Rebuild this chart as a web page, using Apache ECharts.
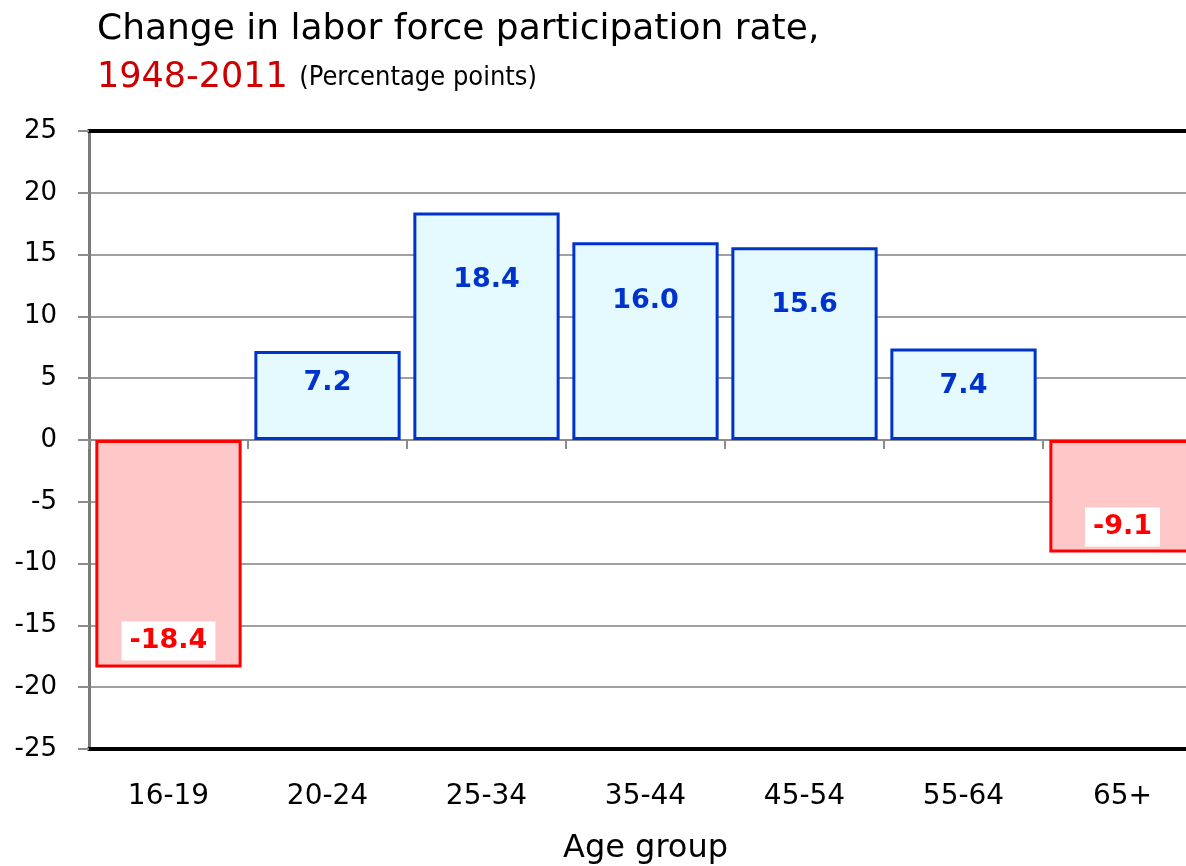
<!DOCTYPE html>
<html>
<head>
<meta charset="utf-8">
<script src="https://cdn.jsdelivr.net/npm/echarts@6/dist/echarts.min.js"></script>
<style>
  html, body { margin: 0; padding: 0; background: #fff; }
  #chart { width: 1186px; height: 866px; }
</style>
</head>
<body>
<div id="chart"></div>
<script>
// age groups and change in participation rate, 1948-2011 (percentage points)
var ageGroups = ['16-19', '20-24', '25-34', '35-44', '45-54', '55-64', '65+']
var changeValues = [-18.4, 7.2, 18.4, 16.0, 15.6, 7.4, -9.1]
// how far the label sits in from the bar end (Excel placed these by hand)
var labelNudge = [7, 18, 54, 45, 44, 24, 6]

var FONT = '"DejaVu Sans", Verdana, sans-serif'

var chart = echarts.init(document.getElementById('chart'))

var barData = changeValues.map(function(v, i) {
  var neg = v < 0
  return {
    value: v,
    itemStyle: {
      color: neg ? '#ffc8c8' : '#e5faff',
      borderColor: neg ? '#ff0000' : '#0033cc',
      borderWidth: 3
    },
    label: {
      show: true,
      position: neg ? 'insideBottom' : 'insideTop',
      distance: labelNudge[i],
      formatter: function(p) { return p.value.toFixed(1) },
      fontFamily: FONT,
      fontWeight: 'bold',
      fontSize: 27,
      color: neg ? '#ff0000' : '#0033cc',
      backgroundColor: neg ? '#ffffff' : 'transparent',
      padding: neg ? [6, 8, 6, 8] : 0
    }
  }
})

chart.setOption({
  animation: false,
  title: {
    left: 92,
    top: 1,
    text: 'Change in labor force participation rate,\n{red|1948-2011} {sub|(Percentage points)}',
    textStyle: {
      fontFamily: FONT,
      fontSize: 36,
      fontWeight: 'normal',
      color: '#000',
      lineHeight: 48,
      rich: {
        red: { fontFamily: FONT, fontSize: 35, color: '#cc0000', lineHeight: 48 },
        sub: { fontFamily: '"DejaVu Sans Condensed", "DejaVu Sans", sans-serif', fontSize: 27, color: '#000', lineHeight: 48 }
      }
    }
  },
  grid: {
    left: 89,
    width: 1113,
    top: 131,
    bottom: 117,
    outerBoundsMode: 'none'
  },
  xAxis: [
    {
      // bottom axis: category labels and heavy frame line
      type: 'category',
      data: ageGroups,
      position: 'bottom',
      name: 'Age group',
      nameLocation: 'middle',
      nameGap: 84,
      nameTextStyle: { fontFamily: FONT, fontSize: 32, color: '#000' },
      axisLine: { onZero: false, lineStyle: { color: '#000', width: 4 } },
      axisTick: { show: false },
      axisLabel: { fontFamily: FONT, fontSize: 28, color: '#000', margin: 34 },
      splitLine: { show: false }
    },
    {
      // zero line with tick marks between groups
      type: 'category',
      data: ageGroups,
      position: 'bottom',
      axisLine: { onZero: true, lineStyle: { color: '#8c8c8c', width: 2 } },
      axisTick: { show: true, length: 9, lineStyle: { color: '#8c8c8c', width: 2 } },
      axisLabel: { show: false },
      splitLine: { show: false }
    },
    {
      // top frame line
      type: 'category',
      data: ageGroups,
      position: 'top',
      axisLine: { lineStyle: { color: '#000', width: 4 } },
      axisTick: { show: false },
      axisLabel: { show: false },
      splitLine: { show: false }
    }
  ],
  yAxis: {
    type: 'value',
    min: -25,
    max: 25,
    interval: 5,
    axisLine: { show: true, lineStyle: { color: '#7a7a7a', width: 3 } },
    axisTick: { show: true, length: 11, lineStyle: { color: '#8c8c8c', width: 2 } },
    axisLabel: { fontFamily: FONT, fontSize: 26, color: '#000', margin: 32 },
    splitLine: { lineStyle: { color: '#a0a0a0', width: 2 } }
  },
  series: [
    {
      type: 'bar',
      xAxisIndex: 0,
      data: barData,
      barCategoryGap: '8%'
    }
  ]
})
</script>
</body>
</html>
